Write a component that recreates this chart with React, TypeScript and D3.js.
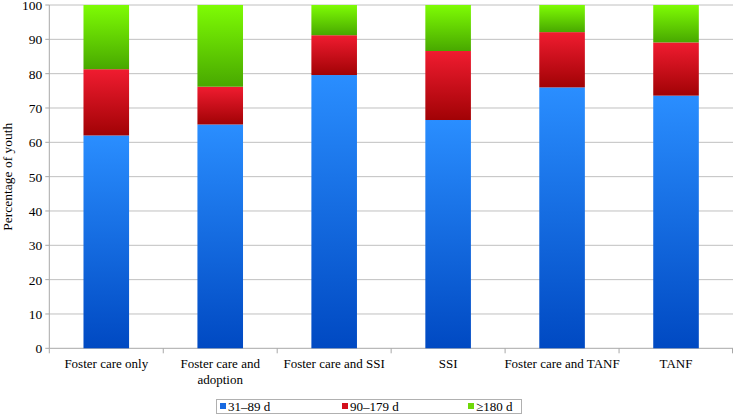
import React from "react";
import * as d3 from "d3";

const categories = [
  ["Foster care only"],
  ["Foster care and", "adoption"],
  ["Foster care and SSI"],
  ["SSI"],
  ["Foster care and TANF"],
  ["TANF"],
];
const seriesNames = ["31–89 d", "90–179 d", "≥180 d"];
const short = [62.0, 65.2, 79.6, 66.5, 76.0, 73.6];
const mid = [19.3, 11.0, 11.6, 20.1, 16.1, 15.5];
const long = [18.7, 23.8, 8.8, 13.4, 7.9, 10.9];
const yTicks = [0, 10, 20, 30, 40, 50, 60, 70, 80, 90, 100];

const grads = [
  { id: "gBlue", top: "#2a8eff", bottom: "#0049c2", legend: "#1769e0" },
  { id: "gRed", top: "#f01c30", bottom: "#a10205", legend: "#d3101c" },
  { id: "gGreen", top: "#7efc04", bottom: "#48a800", legend: "#6ed808" },
];

const FONT = "'Liberation Serif', 'Times New Roman', serif";

export default function App() {
  const W = 733, H = 416;
  const left = 49.3, right = 733, top = 5, bottom = 348.3;
  const x = d3.scaleBand<number>().domain(d3.range(categories.length)).range([left, right]).paddingInner(0.6).paddingOuter(0.3);
  const xOuter = d3.scaleBand<number>().domain(d3.range(categories.length)).range([left, right]);
  const y = d3.scaleLinear().domain([0, 100]).range([bottom, top]);
  const stackData = categories.map((_, i) => ({ i, s0: short[i], s1: mid[i], s2: long[i] }));
  const stack = d3.stack<any>().keys(["s0", "s1", "s2"])(stackData);
  const legendX = [220, 342, 468];
  const fs = 13;
  return (
    <svg width={W} height={H} style={{ position: "fixed", left: 0, top: 0, display: "block", fontFamily: FONT }}>
      <defs>
        {grads.map((g) => (
          <linearGradient key={g.id} id={g.id} x1="0" y1="0" x2="0" y2="1">
            <stop offset="0" stopColor={g.top} />
            <stop offset="1" stopColor={g.bottom} />
          </linearGradient>
        ))}
      </defs>
      <rect width={W} height={H} fill="#fff" />
      {yTicks.map((t) => (
        <g key={t}>
          {t > 0 && <line x1={left} x2={right} y1={y(t)} y2={y(t)} stroke="#c0c0c0" strokeWidth={1} />}
          <line x1={left - 4} x2={left} y1={y(t)} y2={y(t)} stroke="#a8a8a8" />
          <text x={left - 7} y={y(t)} dy="0.36em" textAnchor="end" fontSize={fs + 0.5} fill="#000">{t}</text>
        </g>
      ))}
      <line x1={left} x2={left} y1={top} y2={bottom} stroke="#a8a8a8" />
      <line x1={left} x2={right} y1={bottom} y2={bottom} stroke="#a8a8a8" />
      {d3.range(categories.length + 1).map((k) => {
        const xx = k < categories.length ? xOuter(k)! : right - 0.5;
        return <line key={k} x1={xx} x2={xx} y1={bottom} y2={bottom + 5} stroke="#a8a8a8" />;
      })}
      {stack.map((layer, li) => (
        <g key={li}>
          {layer.map((d, i) => (
            <rect key={i} x={x(i)} width={x.bandwidth()} y={y(d[1])} height={y(d[0]) - y(d[1])} fill={`url(#${grads[li].id})`} />
          ))}
        </g>
      ))}
      {categories.map((lines, i) => (
        <text key={i} textAnchor="middle" fontSize={fs} fill="#000">
          {lines.map((l, j) => (
            <tspan key={j} x={xOuter(i)! + xOuter.bandwidth() / 2} y={368 + j * 15.5}>{l}</tspan>
          ))}
        </text>
      ))}
      <text transform={`translate(12,${(top + bottom) / 2}) rotate(-90)`} textAnchor="middle" fontSize={13.5} fill="#000">Percentage of youth</text>
      <rect x={216.5} y={399.5} width={305} height={14} fill="#fff" stroke="#b0b0b0" />
      {seriesNames.map((n, i) => (
        <g key={n}>
          <rect x={legendX[i]} y={403} width={6} height={6} fill={grads[i].legend} />
          <text x={legendX[i] + 8} y={411} fontSize={fs} fill="#000">{n}</text>
        </g>
      ))}
    </svg>
  );
}
